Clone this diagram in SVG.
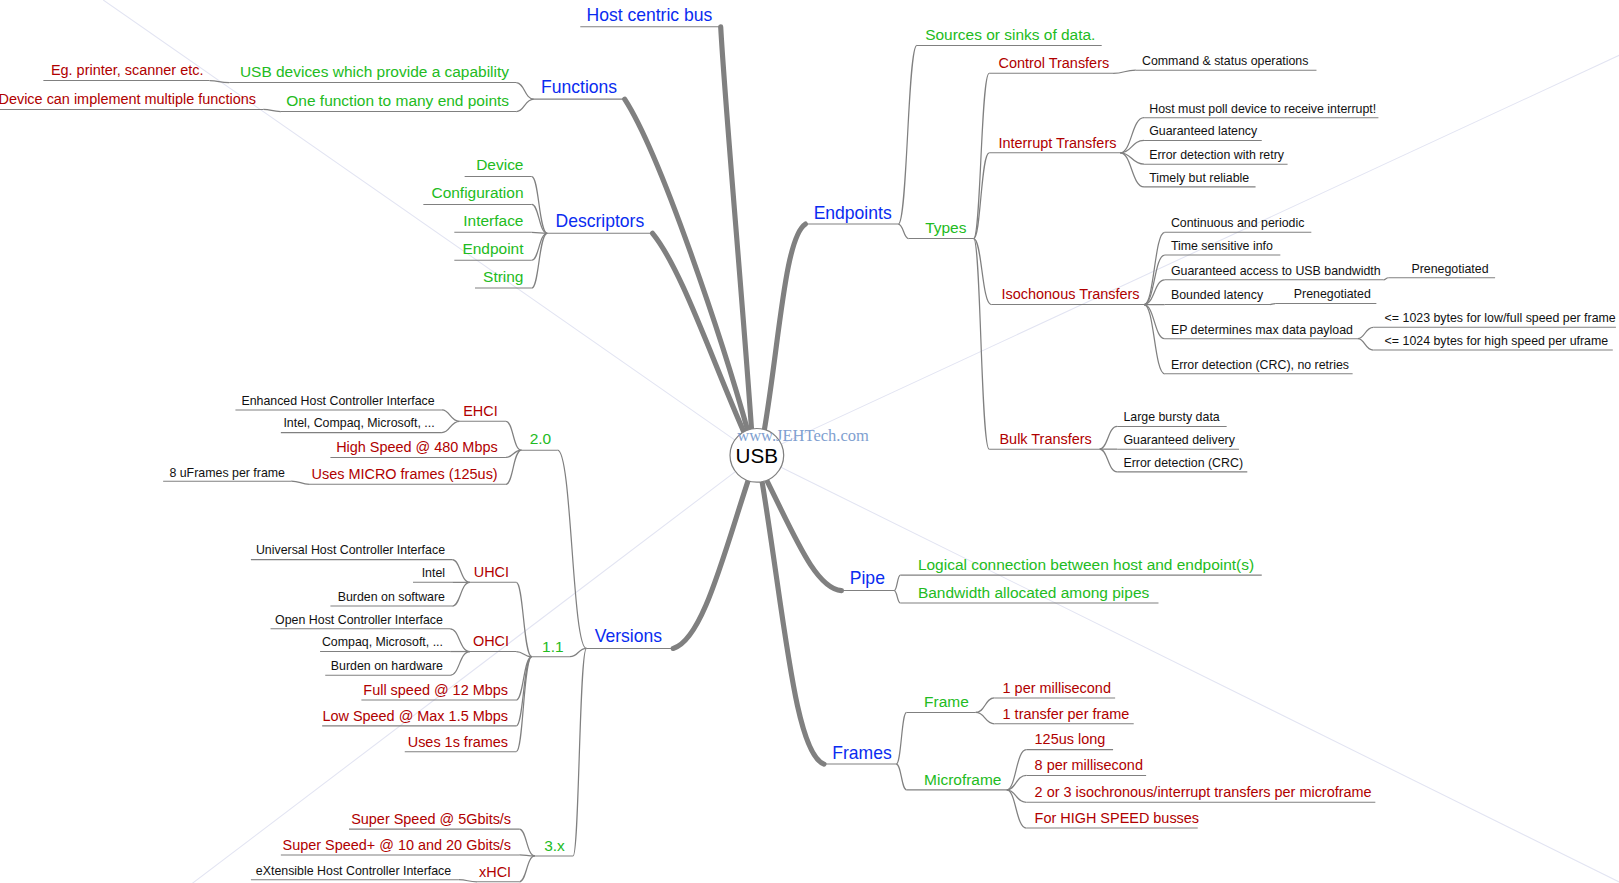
<svg xmlns="http://www.w3.org/2000/svg" width="1619" height="883" viewBox="0 0 1619 883">
<style>
text{font-family:"Liberation Sans",Arial,sans-serif}
.b{fill:#0a2cf0;font-size:17px}
.g{fill:#22bb22;font-size:15px}
.r{fill:#b00000;font-size:14px}
.k{fill:#111;font-size:12px}
.e{text-anchor:end}
.u line{stroke:#808080;stroke-width:1}
.c path{fill:none;stroke:#808080;stroke-width:1.2}
.t path{fill:none;stroke:#808080;stroke-width:5;stroke-linecap:round}
.w line{stroke:#e2e4f2;stroke-width:1}
</style>
<rect width="1619" height="883" fill="#fff"/>
<g transform="scale(1.03253)">
<g class="w"><line x1="733" y1="441" x2="100" y2="0"/><line x1="733" y1="441" x2="150" y2="883"/><line x1="733" y1="441" x2="1619" y2="30"/><line x1="733" y1="441" x2="1580" y2="860"/></g>
<g class="t" id="trunks">
<path d="M728 418 C720 300 702 100 698 26"/>
<path d="M725 420 C700 330 640 150 605 96"/>
<path d="M722 422 C690 350 660 260 632 226"/>
<path d="M740 418 C755 330 760 230 780 217"/>
<path d="M725 464 C700 540 680 620 652 628"/>
<path d="M742 464 C770 520 790 570 815 572"/>
<path d="M738 466 C760 600 770 730 798 740"/>
</g>
<g class="c" id="connectors">
<path d="M870 217 C879 217 879 44 888 44"/><path d="M870 217 C875 217 875 231 880 231"/>
<path d="M943 231 C950 231 950 71 958 71"/><path d="M943 231 C950 231 950 148 958 148"/><path d="M943 231 C951 231 951 295 960 295"/><path d="M943 231 C950 231 950 435 958 435"/>
<path d="M1078 71 C1089 71 1089 68 1100 68"/>
<path d="M1085 148 C1096 148 1096 114 1108 114"/><path d="M1085 148 C1096 148 1096 136 1108 136"/><path d="M1085 148 C1096 148 1096 159 1108 159"/><path d="M1085 148 C1096 148 1096 181 1108 181"/>
<path d="M1108 295 C1118 295 1118 225 1128 225"/><path d="M1108 295 C1118 295 1118 247 1128 247"/><path d="M1108 295 C1118 295 1118 271 1128 271"/><path d="M1108 295 C1118 295 1118 295 1128 295"/><path d="M1108 295 C1118 295 1118 328 1128 328"/><path d="M1108 295 C1118 295 1118 362 1128 362"/>
<path d="M1340 271 C1342 271 1342 269 1345 269"/><path d="M1230 295 C1232 295 1232 294 1235 294"/>
<path d="M1315 328 C1322 328 1322 317 1330 317"/><path d="M1315 328 C1322 328 1322 339 1330 339"/>
<path d="M1065 435 C1073 435 1073 413 1082 413"/><path d="M1065 435 L1082 435"/><path d="M1065 435 C1073 435 1073 457 1082 457"/>
<path d="M866 572 C869 572 869 557 872 557"/><path d="M866 572 C869 572 869 584 872 584"/>
<path d="M868 740 C873 740 873 690 878 690"/><path d="M868 740 C873 740 873 765 878 765"/>
<path d="M945 690 C954 690 954 676 963 676"/><path d="M945 690 C954 690 954 701 963 701"/>
<path d="M975 765 C984 765 984 726 994 726"/><path d="M975 765 C984 765 984 751 994 751"/><path d="M975 765 C984 765 984 777 994 777"/><path d="M975 765 C984 765 984 802 994 802"/>
<path d="M517 96 C508 96 508 80 500 80"/><path d="M517 96 C508 96 508 108 500 108"/>
<path d="M222 80 C212 80 212 78 203 78"/><path d="M272 108 C263 108 263 106 255 106"/>
<path d="M530 226 C522 226 522 171 515 171"/><path d="M530 226 C522 226 522 198 515 198"/><path d="M530 226 L515 225"/><path d="M530 226 C522 226 522 252 515 252"/><path d="M530 226 C522 226 522 279 515 279"/>
<path d="M568 628 C554 628 554 436 540 436"/><path d="M568 628 C560 628 560 636 552 636"/><path d="M568 628 C561 628 561 829 555 829"/>
<path d="M505 436 C497 436 497 408 490 408"/><path d="M505 436 C497 436 497 443 490 443"/><path d="M505 436 C497 436 497 469 490 469"/>
<path d="M445 408 C436 408 436 397 428 397"/><path d="M445 408 C436 408 436 419 428 419"/>
<path d="M300 469 C291 469 291 466 282 466"/>
<path d="M515 636 C507 636 507 564 500 564"/><path d="M515 636 C507 636 507 631 500 631"/><path d="M515 636 C507 636 507 678 500 678"/><path d="M515 636 C507 636 507 703 500 703"/><path d="M515 636 C507 636 507 728 500 728"/>
<path d="M455 564 C446 564 446 542 438 542"/><path d="M455 564 L438 564"/><path d="M455 564 C446 564 446 587 438 587"/>
<path d="M455 631 C445 631 445 609 436 609"/><path d="M455 631 L436 631"/><path d="M455 631 C445 631 445 654 436 654"/>
<path d="M518 829 C510 829 510 803 503 803"/><path d="M518 829 C510 829 510 828 503 828"/><path d="M518 829 C510 829 510 854 503 854"/>
<path d="M462 854 C453 854 453 852 444 852"/>
</g>
<g class="u" id="underlines">
<line x1="562" y1="26" x2="698" y2="26"/>
<line x1="780" y1="217" x2="870" y2="217"/><line x1="888" y1="44" x2="1067" y2="44"/><line x1="880" y1="231" x2="943" y2="231"/>
<line x1="958" y1="71" x2="1078" y2="71"/><line x1="1100" y1="68" x2="1275" y2="68"/>
<line x1="958" y1="148" x2="1085" y2="148"/><line x1="1108" y1="114" x2="1335" y2="114"/><line x1="1108" y1="136" x2="1222" y2="136"/><line x1="1108" y1="159" x2="1247" y2="159"/><line x1="1108" y1="181" x2="1216" y2="181"/>
<line x1="960" y1="295" x2="1108" y2="295"/><line x1="1128" y1="225" x2="1270" y2="225"/><line x1="1128" y1="247" x2="1240" y2="247"/><line x1="1128" y1="271" x2="1340" y2="271"/><line x1="1345" y1="269" x2="1448" y2="269"/><line x1="1128" y1="295" x2="1230" y2="295"/><line x1="1235" y1="294" x2="1333" y2="294"/><line x1="1128" y1="328" x2="1315" y2="328"/><line x1="1330" y1="317" x2="1565" y2="317"/><line x1="1330" y1="339" x2="1562" y2="339"/><line x1="1128" y1="362" x2="1310" y2="362"/>
<line x1="958" y1="435" x2="1065" y2="435"/><line x1="1082" y1="413" x2="1188" y2="413"/><line x1="1082" y1="435" x2="1200" y2="435"/><line x1="1082" y1="457" x2="1208" y2="457"/>
<line x1="815" y1="572" x2="866" y2="572"/><line x1="872" y1="557" x2="1222" y2="557"/><line x1="872" y1="584" x2="1122" y2="584"/>
<line x1="798" y1="740" x2="868" y2="740"/><line x1="878" y1="690" x2="945" y2="690"/><line x1="963" y1="676" x2="1080" y2="676"/><line x1="963" y1="701" x2="1098" y2="701"/>
<line x1="878" y1="765" x2="975" y2="765"/><line x1="994" y1="726" x2="1078" y2="726"/><line x1="994" y1="751" x2="1110" y2="751"/><line x1="994" y1="777" x2="1332" y2="777"/><line x1="994" y1="802" x2="1160" y2="802"/>
<line x1="517" y1="96" x2="605" y2="96"/><line x1="222" y1="80" x2="500" y2="80"/><line x1="42" y1="78" x2="203" y2="78"/><line x1="272" y1="108" x2="500" y2="108"/><line x1="0" y1="106" x2="255" y2="106"/>
<line x1="530" y1="226" x2="632" y2="226"/><line x1="450" y1="171" x2="515" y2="171"/><line x1="410" y1="198" x2="515" y2="198"/><line x1="440" y1="225" x2="515" y2="225"/><line x1="440" y1="252" x2="515" y2="252"/><line x1="460" y1="279" x2="515" y2="279"/>
<line x1="568" y1="628" x2="652" y2="628"/><line x1="505" y1="436" x2="540" y2="436"/><line x1="445" y1="408" x2="490" y2="408"/><line x1="228" y1="397" x2="428" y2="397"/><line x1="272" y1="419" x2="428" y2="419"/><line x1="320" y1="443" x2="490" y2="443"/><line x1="300" y1="469" x2="490" y2="469"/><line x1="158" y1="466" x2="282" y2="466"/>
<line x1="515" y1="636" x2="552" y2="636"/><line x1="455" y1="564" x2="500" y2="564"/><line x1="243" y1="542" x2="438" y2="542"/><line x1="400" y1="564" x2="438" y2="564"/><line x1="320" y1="587" x2="438" y2="587"/>
<line x1="455" y1="631" x2="500" y2="631"/><line x1="262" y1="609" x2="436" y2="609"/><line x1="310" y1="631" x2="436" y2="631"/><line x1="315" y1="654" x2="436" y2="654"/>
<line x1="350" y1="678" x2="500" y2="678"/><line x1="312" y1="703" x2="500" y2="703"/><line x1="392" y1="728" x2="500" y2="728"/>
<line x1="518" y1="829" x2="555" y2="829"/><line x1="338" y1="803" x2="503" y2="803"/><line x1="272" y1="828" x2="503" y2="828"/><line x1="462" y1="854" x2="503" y2="854"/><line x1="243" y1="852" x2="444" y2="852"/>
</g>
<g id="usb"><circle cx="733" cy="441" r="26" fill="#fff" stroke="#808080" stroke-width="1.2"/><text x="733" y="448" font-size="20" text-anchor="middle" fill="#000">USB</text></g>
<text x="714" y="427" font-size="16" fill="#7f9fd0" style="font-family:'Liberation Serif',serif">www.JEHTech.com</text>
<g id="host"><text class="b" x="568" y="20">Host centric bus</text></g>
<g id="endpoints">
<text class="b" x="788" y="212">Endpoints</text>
<text class="g" x="896" y="39">Sources or sinks of data.</text>
<text class="g" x="896" y="226">Types</text>
<text class="r" x="967" y="66">Control Transfers</text>
<text class="k" x="1106" y="63">Command &amp; status operations</text>
<text class="r" x="967" y="143">Interrupt Transfers</text>
<text class="k" x="1113" y="109">Host must poll device to receive interrupt!</text>
<text class="k" x="1113" y="131">Guaranteed latency</text>
<text class="k" x="1113" y="154">Error detection with retry</text>
<text class="k" x="1113" y="176">Timely but reliable</text>
<text class="r" x="970" y="290">Isochonous Transfers</text>
<text class="k" x="1134" y="220">Continuous and periodic</text>
<text class="k" x="1134" y="242">Time sensitive info</text>
<text class="k" x="1134" y="266">Guaranteed access to USB bandwidth</text>
<text class="k" x="1367" y="264">Prenegotiated</text>
<text class="k" x="1134" y="290">Bounded latency</text>
<text class="k" x="1253" y="289">Prenegotiated</text>
<text class="k" x="1134" y="323">EP determines max data payload</text>
<text class="k" x="1341" y="312">&lt;= 1023 bytes for low/full speed per frame</text>
<text class="k" x="1341" y="334">&lt;= 1024 bytes for high speed per uframe</text>
<text class="k" x="1134" y="357">Error detection (CRC), no retries</text>
<text class="r" x="968" y="430">Bulk Transfers</text>
<text class="k" x="1088" y="408">Large bursty data</text>
<text class="k" x="1088" y="430">Guaranteed delivery</text>
<text class="k" x="1088" y="452">Error detection (CRC)</text>
</g>
<g id="pipe">
<text class="b" x="823" y="566">Pipe</text>
<text class="g" x="889" y="552">Logical connection between host and endpoint(s)</text>
<text class="g" x="889" y="579">Bandwidth allocated among pipes</text>
</g>
<g id="frames">
<text class="b" x="806" y="735">Frames</text>
<text class="g" x="895" y="685">Frame</text>
<text class="r" x="971" y="671">1 per millisecond</text>
<text class="r" x="971" y="696">1 transfer per frame</text>
<text class="g" x="895" y="760">Microframe</text>
<text class="r" x="1002" y="721">125us long</text>
<text class="r" x="1002" y="746">8 per millisecond</text>
<text class="r" x="1002" y="772">2 or 3 isochronous/interrupt transfers per microframe</text>
<text class="r" x="1002" y="797">For HIGH SPEED busses</text>
</g>
<g id="functions">
<text class="b" x="524" y="90">Functions</text>
<text class="g e" x="493" y="75">USB devices which provide a capability</text>
<text class="r e" x="197" y="73">Eg. printer, scanner etc.</text>
<text class="g e" x="493" y="103">One function to many end points</text>
<text class="r e" x="248" y="101">Device can implement multiple functions</text>
</g>
<g id="descriptors">
<text class="b" x="538" y="220">Descriptors</text>
<text class="g e" x="507" y="165">Device</text>
<text class="g e" x="507" y="192">Configuration</text>
<text class="g e" x="507" y="219">Interface</text>
<text class="g e" x="507" y="246">Endpoint</text>
<text class="g e" x="507" y="273">String</text>
</g>
<g id="versions">
<text class="b" x="576" y="622">Versions</text>
<text class="g" x="513" y="430">2.0</text>
<text class="r e" x="482" y="403">EHCI</text>
<text class="k e" x="421" y="392">Enhanced Host Controller Interface</text>
<text class="k e" x="421" y="414">Intel, Compaq, Microsoft, ...</text>
<text class="r e" x="482" y="438">High Speed @ 480 Mbps</text>
<text class="r e" x="482" y="464">Uses MICRO frames (125us)</text>
<text class="k e" x="276" y="462">8 uFrames per frame</text>
<text class="g" x="525" y="631">1.1</text>
<text class="r e" x="493" y="559">UHCI</text>
<text class="k e" x="431" y="537">Universal Host Controller Interface</text>
<text class="k e" x="431" y="559">Intel</text>
<text class="k e" x="431" y="582">Burden on software</text>
<text class="r e" x="493" y="626">OHCI</text>
<text class="k e" x="429" y="604">Open Host Controller Interface</text>
<text class="k e" x="429" y="626">Compaq, Microsoft, ...</text>
<text class="k e" x="429" y="649">Burden on hardware</text>
<text class="r e" x="492" y="673">Full speed @ 12 Mbps</text>
<text class="r e" x="492" y="698">Low Speed @ Max 1.5 Mbps</text>
<text class="r e" x="492" y="723">Uses 1s frames</text>
<text class="g" x="527" y="824">3.x</text>
<text class="r e" x="495" y="798">Super Speed @ 5Gbits/s</text>
<text class="r e" x="495" y="823">Super Speed+ @ 10 and 20 Gbits/s</text>
<text class="r e" x="495" y="849">xHCI</text>
<text class="k e" x="437" y="847">eXtensible Host Controller Interface</text>
</g>
</g>
</svg>
